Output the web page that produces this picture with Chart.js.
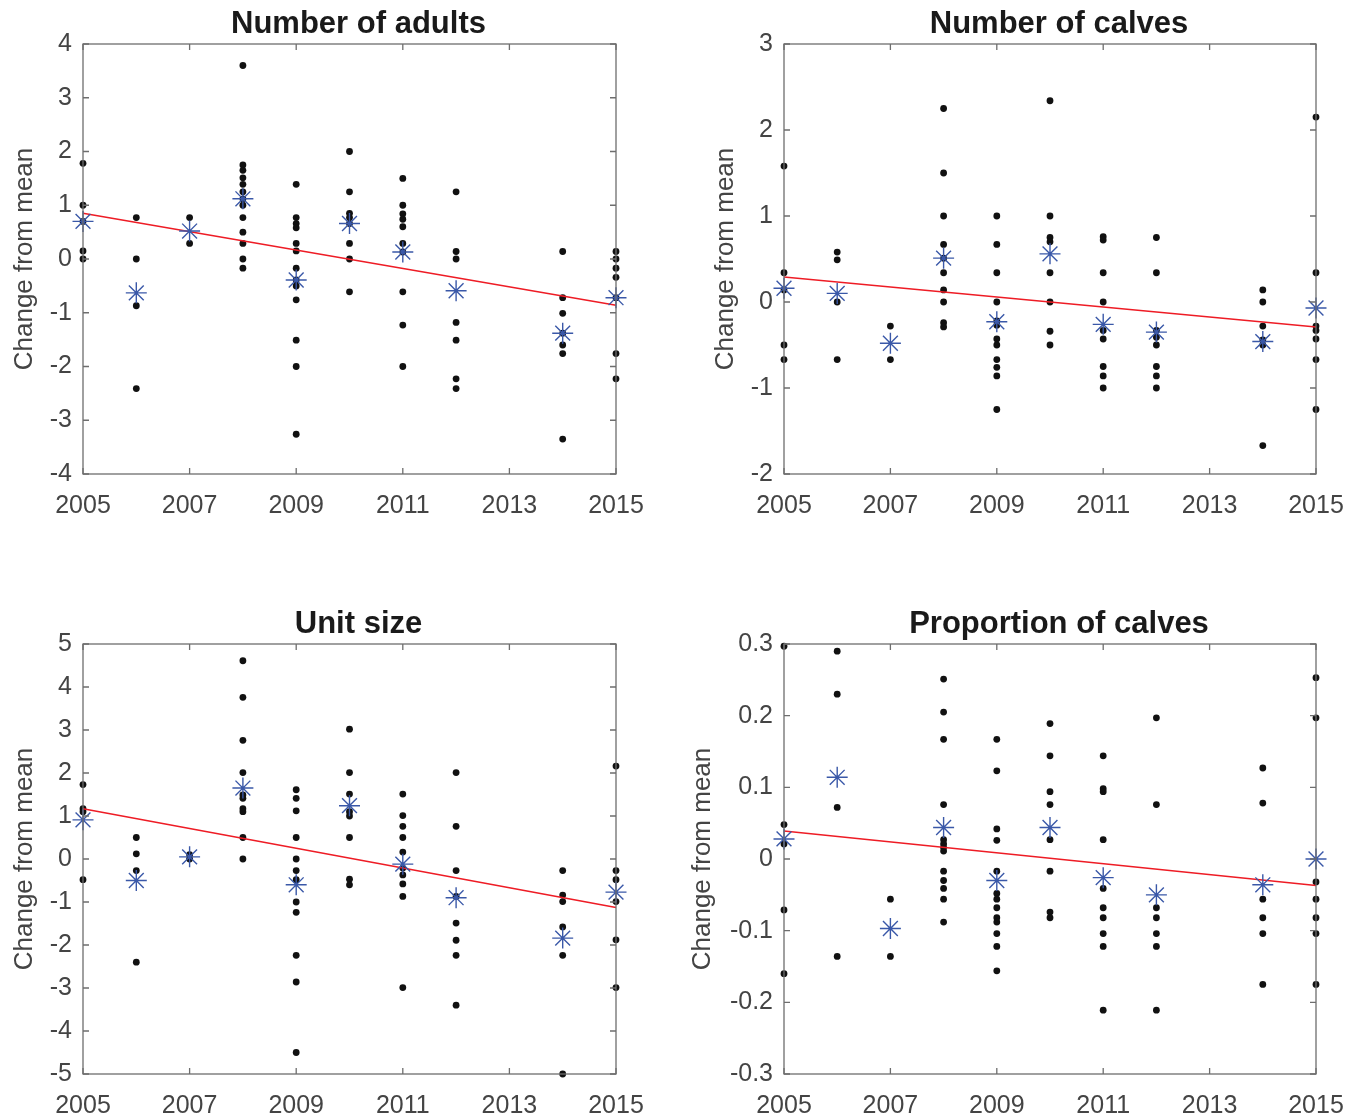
<!DOCTYPE html>
<html>
<head>
<meta charset="utf-8">
<title>Change from mean</title>
<script src="https://cdn.jsdelivr.net/npm/chart.js@4.4.1/dist/chart.umd.min.js"></script>
<style>
  body { margin: 0; background: #fff; }
  #wrap { position: relative; width: 1363px; height: 1116px; }
  canvas { position: absolute; }
</style>
</head>
<body>
<div id="wrap">
  <canvas id="adults" width="681" height="558" style="left:0;top:0"></canvas>
  <canvas id="calves" width="682" height="558" style="left:681px;top:0"></canvas>
  <canvas id="unitSize" width="681" height="558" style="left:0;top:558px"></canvas>
  <canvas id="propCalves" width="682" height="558" style="left:681px;top:558px"></canvas>
</div>
<script>
// survey years (no 2013)
const years = [2005, 2006, 2007, 2008, 2009, 2010, 2011, 2012, 2014, 2015];
const xRange = [2005, 2015];
const xStep = 2;

// Number of adults: unit values per year, yearly means, fitted trend at 2005 / 2015
const adultsPoints = [
    [1.78, 1.0, 0.7, 0.15, 0.0],
    [0.77, 0.0, -0.87, -2.41],
    [0.77, 0.29],
    [3.6, 1.75, 1.65, 1.51, 1.39, 1.25, 1.12, 1.0, 0.77, 0.5, 0.29, 0.0, -0.17],
    [1.39, 0.77, 0.66, 0.58, 0.29, 0.15, -0.17, -0.39, -0.5, -0.76, -1.51, -2.0, -3.26],
    [2.0, 1.25, 0.85, 0.77, 0.66, 0.29, 0.0, -0.61],
    [1.5, 1.0, 0.84, 0.74, 0.6, 0.29, 0.13, -0.61, -1.23, -2.0],
    [1.25, 0.14, 0.0, -1.18, -1.51, -2.23, -2.41],
    [0.14, -0.72, -1.01, -1.38, -1.6, -1.76, -3.35],
    [0.14, 0.0, -0.17, -0.34, -0.72, -1.76, -2.23]
];
const adultsMeans = [0.7, -0.63, 0.52, 1.12, -0.39, 0.66, 0.13, -0.59, -1.38, -0.72];
const adultsTrend = [0.85, -0.86];
const adultsTicks = [-4, 4, 1];

// Number of calves
const calvesPoints = [
    [1.58, 0.34, 0.14, -0.5, -0.67],
    [0.58, 0.49, 0.0, -0.67],
    [-0.28, -0.67],
    [2.25, 1.5, 1.0, 0.67, 0.51, 0.34, 0.14, 0.0, -0.24, -0.29],
    [1.0, 0.67, 0.34, 0.0, -0.22, -0.27, -0.43, -0.5, -0.67, -0.76, -0.86, -1.25],
    [2.34, 1.0, 0.75, 0.7, 0.34, 0.0, -0.34, -0.5],
    [0.76, 0.72, 0.34, 0.0, -0.33, -0.43, -0.75, -0.86, -1.0],
    [0.75, 0.34, -0.33, -0.41, -0.5, -0.75, -0.86, -1.0],
    [0.14, 0.0, -0.28, -0.44, -0.5, -1.67],
    [2.15, 0.34, -0.28, -0.33, -0.43, -0.67, -1.25]
];
const calvesMeans = [0.16, 0.10, -0.48, 0.51, -0.23, 0.56, -0.26, -0.35, -0.46, -0.07];
const calvesTrend = [0.29, -0.29];
const calvesTicks = [-2, 3, 1];

// Unit size
const unitPoints = [
    [1.73, 1.17, 1.1, -0.48],
    [0.5, 0.12, -0.27, -2.4],
    [0.1, 0.0],
    [4.61, 3.76, 2.76, 2.01, 1.49, 1.41, 1.17, 1.1, 0.5, 0.0],
    [1.61, 1.41, 1.12, 0.5, 0.0, -0.27, -0.48, -1.0, -1.24, -2.24, -2.86, -4.5],
    [3.02, 2.01, 1.51, 1.1, 1.0, 0.5, -0.47, -0.6],
    [1.51, 1.01, 0.76, 0.5, 0.16, -0.21, -0.37, -0.58, -0.87, -2.99],
    [2.01, 0.76, -0.27, -0.87, -1.49, -1.89, -2.24, -3.4],
    [-0.27, -0.84, -0.99, -1.58, -2.24, -5.0],
    [2.16, -0.27, -0.48, -0.99, -1.88, -2.99]
];
const unitMeans = [0.91, -0.5, 0.05, 1.65, -0.6, 1.24, -0.12, -0.9, -1.84, -0.77];
const unitTrend = [1.17, -1.13];
const unitTicks = [-5, 5, 1];

// Proportion of calves
const propPoints = [
    [0.297, 0.048, 0.021, -0.071, -0.16],
    [0.29, 0.23, 0.072, -0.136],
    [-0.056, -0.136],
    [0.251, 0.205, 0.167, 0.076, 0.027, 0.021, 0.016, 0.011, -0.017, -0.03, -0.041, -0.056, -0.088],
    [0.167, 0.123, 0.042, 0.026, -0.017, -0.048, -0.056, -0.068, -0.082, -0.088, -0.104, -0.122, -0.156],
    [0.189, 0.144, 0.094, 0.076, 0.027, -0.017, -0.074, -0.082],
    [0.144, 0.098, 0.094, 0.027, -0.041, -0.068, -0.082, -0.104, -0.122, -0.211],
    [0.197, 0.076, -0.068, -0.082, -0.104, -0.122, -0.211],
    [0.127, 0.078, -0.056, -0.082, -0.104, -0.175],
    [0.253, 0.197, -0.032, -0.056, -0.082, -0.104, -0.175]
];
const propMeans = [0.028, 0.114, -0.097, 0.044, -0.03, 0.044, -0.026, -0.05, -0.036, 0.0];
const propTrend = [0.039, -0.037];
const propTicks = [-0.3, 0.3, 0.1];

Chart.defaults.font.family = '"Liberation Sans", Arial, Helvetica, sans-serif';

// Box round the axes with inward ticks on all four sides, plus the panel title
const boxPlugin = {
    id: 'matlabBox',
    afterDatasetsDraw(chart, args, opts) {
        const ctx = chart.ctx;
        const a = chart.chartArea;
        const x = chart.scales.x, y = chart.scales.y;
        const tl = 6;
        ctx.save();
        ctx.strokeStyle = '#6e6e6e';
        ctx.lineWidth = 1.3;
        ctx.strokeRect(a.left, a.top, a.right - a.left, a.bottom - a.top);
        ctx.beginPath();
        x.ticks.forEach(t => {
            const px = x.getPixelForValue(t.value);
            ctx.moveTo(px, a.bottom); ctx.lineTo(px, a.bottom - tl);
            ctx.moveTo(px, a.top); ctx.lineTo(px, a.top + tl);
        });
        y.ticks.forEach(t => {
            const py = y.getPixelForValue(t.value);
            ctx.moveTo(a.left, py); ctx.lineTo(a.left + tl, py);
            ctx.moveTo(a.right, py); ctx.lineTo(a.right - tl, py);
        });
        ctx.stroke();
        // title
        ctx.fillStyle = '#1a1a1a';
        ctx.font = 'bold 31px "Liberation Sans", Arial, sans-serif';
        ctx.textAlign = 'center';
        ctx.textBaseline = 'alphabetic';
        ctx.fillText(opts.text, (a.left + a.right) / 2 + 9, a.top - 11);
        ctx.restore();
    }
};

function makePanel(id, title, points, means, trend, yTicks, area, labelPad) {
    // area = [left, top, right, bottom] of the plot box inside the canvas
    const canvas = document.getElementById(id);
    const W = canvas.width, H = canvas.height;

    const dots = [];
    years.forEach((yr, i) => {
        points[i].forEach(v => dots.push({x: yr, y: v}));
    });
    const stars = years.map((yr, i) => ({x: yr, y: means[i]}));
    const fit = [{x: xRange[0], y: trend[0]}, {x: xRange[1], y: trend[1]}];

    const decimals = yTicks[2] < 1 ? 1 : 0;

    return new Chart(canvas, {
        type: 'scatter',
        data: {
            datasets: [
                {
                    data: stars,
                    pointStyle: 'star',
                    pointRadius: 10.5,
                    borderColor: '#3a58a8',
                    backgroundColor: '#3a58a8',
                    borderWidth: 1.4,
                    clip: false
                },
                {
                    type: 'line',
                    data: fit,
                    borderColor: '#ee1c25',
                    borderWidth: 1.5,
                    pointRadius: 0,
                    fill: false,
                    clip: false
                },
                {
                    data: dots,
                    pointRadius: 3.4,
                    backgroundColor: '#111',
                    borderWidth: 0,
                    clip: false
                }
            ]
        },
        options: {
            responsive: false,
            animation: false,
            devicePixelRatio: 1,
            events: [],
            layout: {
                padding: {left: 0, top: area[1], right: W - area[2], bottom: 0}
            },
            plugins: {
                legend: {display: false},
                tooltip: {enabled: false},
                title: {display: false},
                matlabBox: {text: title}
            },
            scales: {
                x: {
                    type: 'linear',
                    min: xRange[0],
                    max: xRange[1],
                    grid: {display: false, drawTicks: false},
                    border: {display: false},
                    ticks: {
                        stepSize: xStep,
                        autoSkip: false,
                        maxRotation: 0,
                        padding: 17,
                        color: '#444',
                        font: {size: 25},
                        callback: v => String(v)
                    },
                    afterFit: s => { s.height = H - area[3]; }
                },
                y: {
                    type: 'linear',
                    min: yTicks[0],
                    max: yTicks[1],
                    grid: {display: false, drawTicks: false},
                    border: {display: false},
                    ticks: {
                        stepSize: yTicks[2],
                        autoSkip: false,
                        padding: 11,
                        color: '#444',
                        font: {size: 25},
                        callback: v => String(Number(v.toFixed(decimals)))
                    },
                    title: {
                        display: true,
                        text: 'Change from mean',
                        color: '#444',
                        font: {size: 26},
                        padding: {top: labelPad, bottom: 0}
                    },
                    afterFit: s => { s.width = area[0]; }
                }
            }
        },
        plugins: [boxPlugin]
    });
}

makePanel('adults', 'Number of adults', adultsPoints, adultsMeans, adultsTrend, adultsTicks, [83, 44, 616, 474], 9);
makePanel('calves', 'Number of calves', calvesPoints, calvesMeans, calvesTrend, calvesTicks, [103, 44, 635, 474], 29);
makePanel('unitSize', 'Unit size', unitPoints, unitMeans, unitTrend, unitTicks, [83, 86, 616, 516], 9);
makePanel('propCalves', 'Proportion of calves', propPoints, propMeans, propTrend, propTicks, [103, 86, 635, 516], 6);
</script>
</body>
</html>
